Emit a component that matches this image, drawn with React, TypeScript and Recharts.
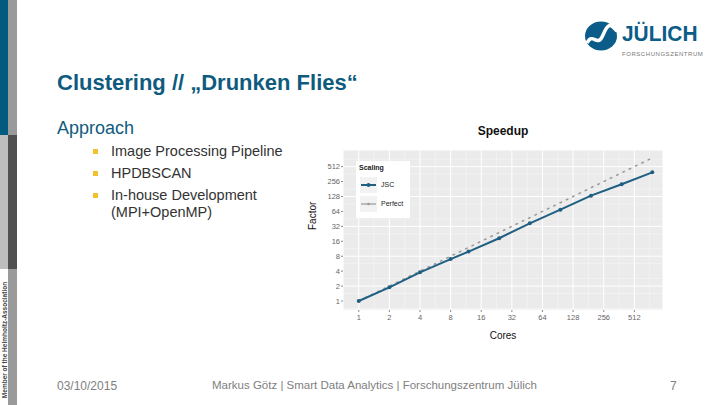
import React from 'react';
import {
  LineChart,
  Line,
  XAxis,
  YAxis,
  CartesianGrid,
  ReferenceLine
} from 'recharts';

// cores used in the scaling runs
const cores = [1, 2, 4, 8, 12, 24, 48, 96, 192, 384, 768];
const speedup = [1, 1.89, 3.78, 7.0, 9.9, 18.4, 36.8, 69.5, 133, 226, 393];
// ideal linear scaling
const perfect = [1, 2, 4, 8, 12, 24, 48, 96, 192, 384, 768];

const xTicks = [1, 2, 4, 8, 16, 32, 64, 128, 256, 512];
const yTicks = [1, 2, 4, 8, 16, 32, 64, 128, 256, 512];
const xMinor = [0.707, 1.414, 2.828, 5.657, 11.31, 22.63, 45.25, 90.51, 181, 362, 724];
const yMinor = [0.707, 1.414, 2.828, 5.657, 11.31, 22.63, 45.25, 90.51, 181, 362, 724];

const bullets = ['Image Processing Pipeline', 'HPDBSCAN', 'In-house Development (MPI+OpenMP)'];

const rows = cores.map((c, i) => ({ cores: c, speedup: speedup[i], perfect: perfect[i] }));

const BLUE = '#1f5f82';
const SANS = '"Liberation Sans", Arial, sans-serif';

function Logo() {
  return (
    <div style={{ position: 'absolute', left: 584, top: 18, width: 130, height: 45 }}>
      <svg width={36} height={34} style={{ position: 'absolute', left: 0, top: 2 }}>
        <ellipse cx={17} cy={16} rx={16} ry={14.5} fill="#0b5c88" />
        <path d="M3 23 C 9 11, 13 29, 19 15 S 27 5, 33 11" stroke="#fff" strokeWidth={3.5} fill="none" />
      </svg>
      <div style={{
        position: 'absolute', left: 38, top: 5, fontFamily: SANS, fontWeight: 700, fontSize: 22,
        color: '#0b5c88', transform: 'scaleX(0.95)', transformOrigin: 'left top', lineHeight: '22px'
      }}>
        JÜLICH
      </div>
      <div style={{ position: 'absolute', left: 38, top: 33, fontFamily: SANS, fontSize: 6, color: '#777', letterSpacing: 0.55 }}>
        FORSCHUNGSZENTRUM
      </div>
    </div>
  );
}

function SideBars() {
  return (
    <>
      <div style={{ position: 'absolute', left: 0, top: 0, width: 8, height: 135, background: '#035a80' }} />
      <div style={{ position: 'absolute', left: 8, top: 0, width: 9, height: 135, background: '#9a9a9a' }} />
      <div style={{ position: 'absolute', left: 0, top: 135, width: 8, height: 134, background: '#bdbdbd' }} />
      <div style={{ position: 'absolute', left: 8, top: 135, width: 9, height: 134, background: '#505050' }} />
      <div style={{ position: 'absolute', left: 8, top: 269, width: 9, height: 136, background: '#9a9a9a' }} />
      <div style={{
        position: 'absolute', left: 4, top: 340, transform: 'translate(-50%, -50%) rotate(-90deg)',
        whiteSpace: 'nowrap', fontFamily: SANS, fontSize: 6.5, fontWeight: 700, color: '#444'
      }}>
        Member of the Helmholtz-Association
      </div>
    </>
  );
}

function ScalingLegend() {
  const key = (dash: boolean, color: string) => (
    <svg width={17} height={16}>
      <rect x={0} y={0} width={17} height={16} fill="#f2f2f2" />
      <line x1={1} y1={8} x2={16} y2={8} stroke={color} strokeWidth={dash ? 1.2 : 2} />
      <circle cx={8.5} cy={8} r={dash ? 1.3 : 2} fill={color} />
    </svg>
  );
  return (
    <div style={{
      position: 'absolute', left: 356, top: 161, width: 54, height: 57, background: '#fff',
      fontFamily: SANS, fontSize: 7, color: '#222'
    }}>
      <div style={{ position: 'absolute', left: 3, top: 3, fontWeight: 700 }}>Scaling</div>
      <div style={{ position: 'absolute', left: 4, top: 16 }}>{key(false, BLUE)}</div>
      <div style={{ position: 'absolute', left: 25, top: 20 }}>JSC</div>
      <div style={{ position: 'absolute', left: 4, top: 35 }}>{key(true, '#9a9a9a')}</div>
      <div style={{ position: 'absolute', left: 25, top: 39 }}>Perfect</div>
    </div>
  );
}

export default function App() {
  return (
    <div style={{ position: 'absolute', left: 0, top: 0, width: 720, height: 405, background: '#fff', overflow: 'hidden' }}>
      <SideBars />
      <Logo />

      <div style={{ position: 'absolute', left: 57, top: 70, fontFamily: SANS, fontWeight: 700, fontSize: 22, color: '#0f5b7e', whiteSpace: 'nowrap' }}>
        Clustering // „Drunken Flies“
      </div>
      <div style={{ position: 'absolute', left: 57, top: 118, fontFamily: SANS, fontSize: 18, color: '#0f5b7e' }}>
        Approach
      </div>

      <div style={{ position: 'absolute', left: 93, top: 143, width: 200, fontFamily: SANS, fontSize: 14.5, color: '#333', lineHeight: '17px' }}>
        {bullets.map((b) => (
          <div key={b} style={{ position: 'relative', paddingLeft: 18, marginBottom: 5 }}>
            <span style={{ position: 'absolute', left: 0, top: 6, width: 5, height: 5, background: '#f2c12e' }} />
            {b}
          </div>
        ))}
      </div>

      <div style={{ position: 'absolute', left: 57, top: 379, fontFamily: SANS, fontSize: 12, color: '#808080' }}>03/10/2015</div>
      <div style={{ position: 'absolute', left: 212, top: 379, fontFamily: SANS, fontSize: 11.5, color: '#808080', whiteSpace: 'nowrap' }}>
        Markus Götz | Smart Data Analytics | Forschungszentrum Jülich
      </div>
      <div style={{ position: 'absolute', left: 670, top: 379, fontFamily: SANS, fontSize: 12, color: '#808080' }}>7</div>

      <div style={{ position: 'absolute', left: 443, top: 124, width: 120, textAlign: 'center', fontFamily: SANS, fontWeight: 700, fontSize: 12, color: '#111' }}>
        Speedup
      </div>

      <div style={{ position: 'absolute', left: 300, top: 115 }}>
        <LineChart width={370} height={230} data={rows} margin={{ top: 35, right: 7, bottom: 0, left: 0 }}>
          <CartesianGrid fill="#ebebeb" stroke="#ffffff" strokeWidth={1} />
          {xMinor.map((v) => (
            <ReferenceLine key={'x' + v} x={v} stroke="#f6f6f6" strokeWidth={0.6} />
          ))}
          {yMinor.map((v) => (
            <ReferenceLine key={'y' + v} y={v} stroke="#f6f6f6" strokeWidth={0.6} />
          ))}
          <XAxis
            dataKey="cores"
            type="number"
            scale="log"
            domain={[0.7, 979]}
            allowDataOverflow
            ticks={xTicks}
            height={35}
            axisLine={false}
            tickSize={2}
            tickMargin={3}
            tickLine={{ stroke: '#888' }}
            tick={{ fontSize: 7.5, fill: '#666', fontFamily: SANS }}
            label={{ value: 'Cores', position: 'insideBottom', offset: 6, fontSize: 10, fill: '#111', fontFamily: SANS }}
          />
          <YAxis
            type="number"
            scale="log"
            domain={[0.659, 1107]}
            allowDataOverflow
            ticks={yTicks}
            width={43}
            axisLine={false}
            tickSize={2}
            tickMargin={1}
            tickLine={{ stroke: '#888' }}
            tick={{ fontSize: 7.5, fill: '#666', fontFamily: SANS }}
            label={{ value: 'Factor', angle: -90, position: 'insideLeft', offset: 12, fontSize: 10, fill: '#111', fontFamily: SANS }}
          />
          <Line
            dataKey="perfect"
            stroke="#9a9a9a"
            strokeWidth={1.6}
            strokeDasharray="1.5 5.5"
            strokeLinecap="round"
            dot={false}
            isAnimationActive={false}
          />
          <Line
            dataKey="speedup"
            stroke={BLUE}
            strokeWidth={2}
            dot={{ r: 2, fill: BLUE, stroke: 'none' }}
            isAnimationActive={false}
          />
        </LineChart>
      </div>

      <ScalingLegend />
    </div>
  );
}
